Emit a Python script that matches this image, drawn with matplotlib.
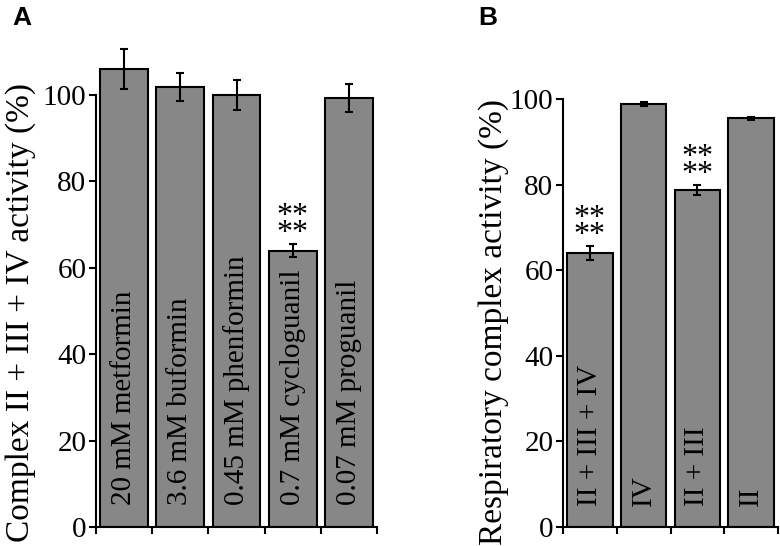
import matplotlib.pyplot as plt
import numpy as np

plt.rcParams['font.family'] = ['Liberation Serif', 'DejaVu Serif']

# Panel A data
drugs = ['20 mM metformin', '3.6 mM buformin', '0.45 mM phenformin',
         '0.7 mM cycloguanil', '0.07 mM proguanil']
drug_vals = [106.0, 101.9, 100.0, 64.0, 99.3]
drug_err = [4.6, 3.3, 3.5, 1.5, 3.2]
drug_sig = ['', '', '', '**\n**', '']

# Panel B data
complexes = ['II + III + IV', 'IV', 'II + III', 'II']
cx_vals = [64.1, 98.8, 78.7, 95.5]
cx_err = [1.6, 0.5, 1.2, 0.3]
cx_sig = ['**\n**', '', '**\n**', '']

W, H = 780, 546
fig = plt.figure(figsize=(W / 100, H / 100), dpi=100)

def panel(rect, labels, vals, errs, sig, ylabel, ylab_xy, letter, letter_xy, ytop):
    ax = fig.add_axes(rect)
    x = np.arange(len(labels))
    ax.bar(x, vals, width=0.85, color='#878787', edgecolor='black', linewidth=1.5)
    ax.errorbar(x, vals, yerr=errs, fmt='none', ecolor='black', elinewidth=1.5,
                capsize=3, capthick=1.5)
    for xi, lab in zip(x, labels):
        ax.text(xi, 5, lab, rotation=90, ha='center', va='bottom', fontsize=21)
    for xi, v, e, s in zip(x, vals, errs, sig):
        if s:
            ax.text(xi, v + e + 0.7, s, ha='center', va='baseline', fontsize=23,
                    linespacing=0.45)
    ax.set_xlim(-0.5, len(labels) - 0.5)
    ax.set_ylim(0, ytop)
    ax.set_xticks(np.arange(len(labels) + 1) - 0.5)
    ax.set_xticklabels([])
    ax.set_yticks([0, 20, 40, 60, 80, 100])
    ax.tick_params(direction='out', length=5, width=1.5, labelsize=21, pad=2)
    ax.spines['top'].set_visible(False)
    ax.spines['right'].set_visible(False)
    ax.spines['left'].set_bounds(0, 100)
    ax.spines['left'].set_linewidth(1.5)
    ax.spines['bottom'].set_linewidth(1.5)
    fig.text(ylab_xy[0] / W, 1 - ylab_xy[1] / H, ylabel, rotation=90,
             ha='center', va='center', fontsize=24)
    fig.text(letter_xy[0] / W, 1 - letter_xy[1] / H, letter, ha='center', va='center',
             fontsize=19, fontweight='bold', family='Liberation Sans')
    return ax

# axes placement in pixels: left, right, y=0 row, px per unit
a_left, a_right, y0 = 96, 377, 527
a_scale = 4.32
a_top = 112
panel([a_left / W, (H - y0) / H, (a_right - a_left) / W, a_top * a_scale / H],
      drugs, drug_vals, drug_err, drug_sig,
      'Complex II + III + IV activity (%)', (21, 312), 'A', (22, 18), a_top)

b_left, b_right = 563, 778
b_scale = 4.28
b_top = 112
panel([b_left / W, (H - y0) / H, (b_right - b_left) / W, b_top * b_scale / H],
      complexes, cx_vals, cx_err, cx_sig,
      'Respiratory complex activity (%)', (494, 322), 'B', (488, 18), b_top)

fig.savefig('out.png', dpi=100)
